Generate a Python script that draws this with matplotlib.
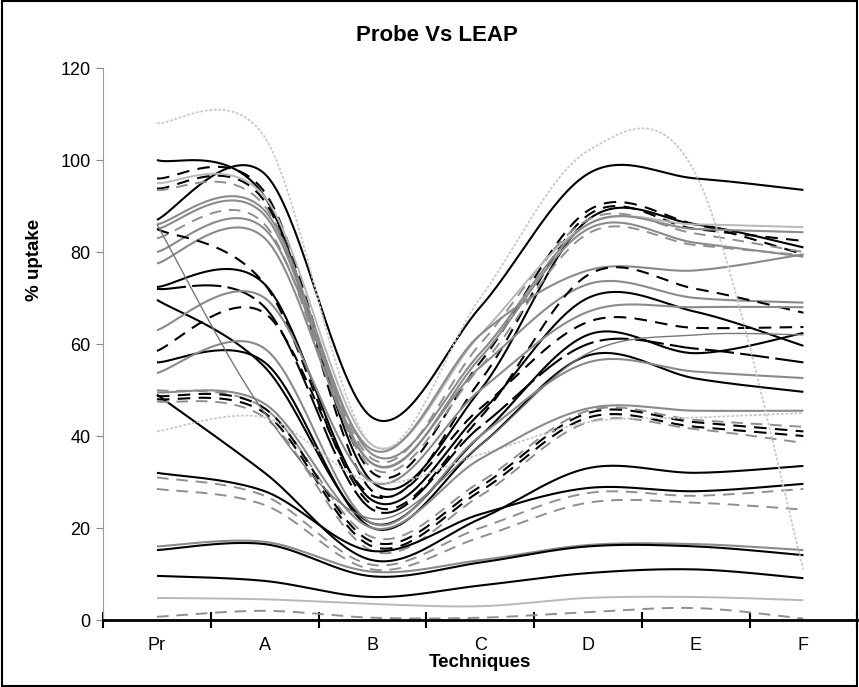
import numpy as np
import matplotlib
matplotlib.use("Agg")
import matplotlib.pyplot as plt
from matplotlib.patches import Rectangle

plt.rcParams['font.family'] = ['Liberation Sans', 'DejaVu Sans']

categories = ["Pr", "A", "B", "C", "D", "E", "F"]

# each series: values at Pr, A, B, C, D, E, F
s01 = [87, 97, 44, 68, 97, 96, 93.5]
s02 = [100, 92, 30, 50, 87, 86, 81]
s03 = [96, 93, 32, 56, 89, 86, 79.5]
s04 = [93.8, 91, 28, 52, 88, 85, 82.4]
s05 = [93.5, 90, 35, 60, 87, 84, 80]
s06 = [95, 92, 38, 62, 86, 86, 85.4]
s07 = [86, 89, 36, 58, 86, 85, 84.3]
s08 = [85, 88, 34, 57, 85, 82, 79]
s09 = [83, 86, 33, 55, 84, 81.5, 79.3]
s10 = [80, 85, 37, 62, 76, 76, 79.5]
s11 = [77.5, 83, 34, 55, 73, 70, 69]
s12 = [85, 73, 25, 44, 75, 72, 66.8]
s13 = [72.4, 73, 26, 45, 70, 67, 59.6]
s14 = [72, 68, 24, 42, 60, 59, 56]
s15 = [69.6, 55, 21, 40, 62, 58, 62.4]
s16 = [58.5, 66.7, 27, 46, 64.8, 63.5, 63.7]
s17 = [63, 70, 30, 50, 67, 68, 68]
s18 = [56, 56, 20, 38, 57.5, 52.5, 49.6]
s19 = [53.7, 59, 21, 40, 56, 54, 52.6]
s20 = [49, 32, 13, 22, 33, 32, 33.5]
s21 = [50, 46, 18, 30, 45.5, 43.5, 42]
s22 = [48.7, 46, 17, 29, 45, 43, 41]
s23 = [48, 45, 16, 28, 44, 42, 40]
s24 = [47.5, 44, 15, 27, 43, 41.5, 38.5]
s25 = [41, 44, 30, 36, 43, 44, 45]
s26 = [49.5, 47, 20, 35, 46, 45.5, 45.5]
s27 = [32, 28, 15, 23, 28.7, 28, 29.6]
s28 = [31, 27, 12, 20, 27.6, 27, 28.5]
s29 = [28.5, 25, 11, 18, 25.5, 25.5, 24]
s30 = [16, 17, 10.5, 13, 16.3, 16.5, 15.2]
s31 = [15.2, 16.5, 9.5, 12.5, 16, 16, 14.1]
s32 = [9.6, 8.5, 5, 7.5, 10.2, 11, 9.1]
s33 = [4.8, 4.5, 3.5, 3, 4.8, 5, 4.3]
s34 = [0.7, 2, 0.5, 0.5, 1.7, 2.6, 0.3]
s35 = [86, 45, 22, 38, 58, 62, 62]
s36 = [108, 105, 38, 70, 102, 97, 11]

series = [s01, s02, s03, s04, s05, s06, s07, s08, s09, s10, s11, s12,
          s13, s14, s15, s16, s17, s18, s19, s20, s21, s22, s23, s24,
          s25, s26, s27, s28, s29, s30, s31, s32, s33, s34, s35, s36]
kinds = ["k", "k", "kd", "kd", "gd", "l", "g", "g", "gd", "g", "g", "kd",
         "k", "kld", "k", "kd", "g", "k", "g", "k", "gd", "kd", "kd", "gd",
         "ld", "g", "k", "gd", "gd", "g", "k", "k", "l", "gd", "gt", "ld"]

styles = {
    "k":   dict(color="black", lw=1.5, ls="-"),
    "kd":  dict(color="black", lw=1.5, ls=(0, (6, 4))),
    "kld": dict(color="black", lw=1.5, ls=(0, (14, 3))),
    "g":   dict(color="#8a8a8a", lw=1.5, ls="-"),
    "gt":  dict(color="#777777", lw=1.0, ls="-"),
    "gd":  dict(color="#8f8f8f", lw=1.4, ls=(0, (6, 4))),
    "l":   dict(color="#b8b8b8", lw=1.4, ls="-"),
    "ld":  dict(color="#c8c8c8", lw=1.3, ls=(0, (1.5, 1))),
}


def smooth(xs, ys, n=40):
    P = np.column_stack([xs, ys]).astype(float)
    out = []
    m = len(P)
    t = np.linspace(0, 1, n)[:, None]
    for i in range(m - 1):
        p0 = P[i]
        p3 = P[i + 1]
        prev = P[i - 1] if i > 0 else P[i]
        nxt = P[i + 2] if i + 2 < m else P[i + 1]
        c1 = p0 + (p3 - prev) / 6.0
        c2 = p3 - (nxt - p0) / 6.0
        seg = ((1 - t) ** 3) * p0 + 3 * ((1 - t) ** 2) * t * c1 + 3 * (1 - t) * t ** 2 * c2 + t ** 3 * p3
        out.append(seg if i == 0 else seg[1:])
    pts = np.vstack(out)
    return pts[:, 0], pts[:, 1]


fig = plt.figure(figsize=(8.59, 6.87), dpi=100)
ax = fig.add_axes([0.120, 0.0975, 0.878, 0.8035])

x = np.arange(len(categories))
for vals, kind in zip(series, kinds):
    sx, sy = smooth(x, vals)
    ax.plot(sx, sy, **styles[kind], solid_capstyle="butt", dash_capstyle="butt")

ax.set_xlim(-0.5, 6.5)
ax.set_ylim(0, 120)
ax.set_yticks(np.arange(0, 121, 20))
ax.set_xticks(x)
ax.set_xticklabels(categories, fontsize=13)
ax.set_xticks(np.arange(-0.5, 6.6, 1), minor=True)
ax.tick_params(axis="x", which="major", length=0, pad=12)
ax.tick_params(axis="x", which="minor", length=12, width=1.5, direction="inout", color="black")
ax.tick_params(axis="y", which="major", length=5, width=0.8, color="#888888", labelsize=13, pad=4)

for s in ["top", "right"]:
    ax.spines[s].set_visible(False)
ax.spines["left"].set_color("#999999")
ax.spines["left"].set_linewidth(0.8)
ax.spines["bottom"].set_color("black")
ax.spines["bottom"].set_linewidth(2.0)

fig.text(0.509, 0.949, "Probe Vs LEAP", fontsize=16, fontweight="bold", ha="center", va="center")
ax.set_xlabel("Techniques", fontsize=13.5, fontweight="bold", labelpad=0)
ax.set_ylabel("% uptake", fontsize=13.5, fontweight="bold")
ax.yaxis.set_label_coords(-0.080, 0.652)

fig.patches.append(Rectangle((0.002, 0.002), 0.996, 0.996, transform=fig.transFigure,
                             fill=False, edgecolor="black", lw=1.5))

fig.savefig("out.png", dpi=100)
